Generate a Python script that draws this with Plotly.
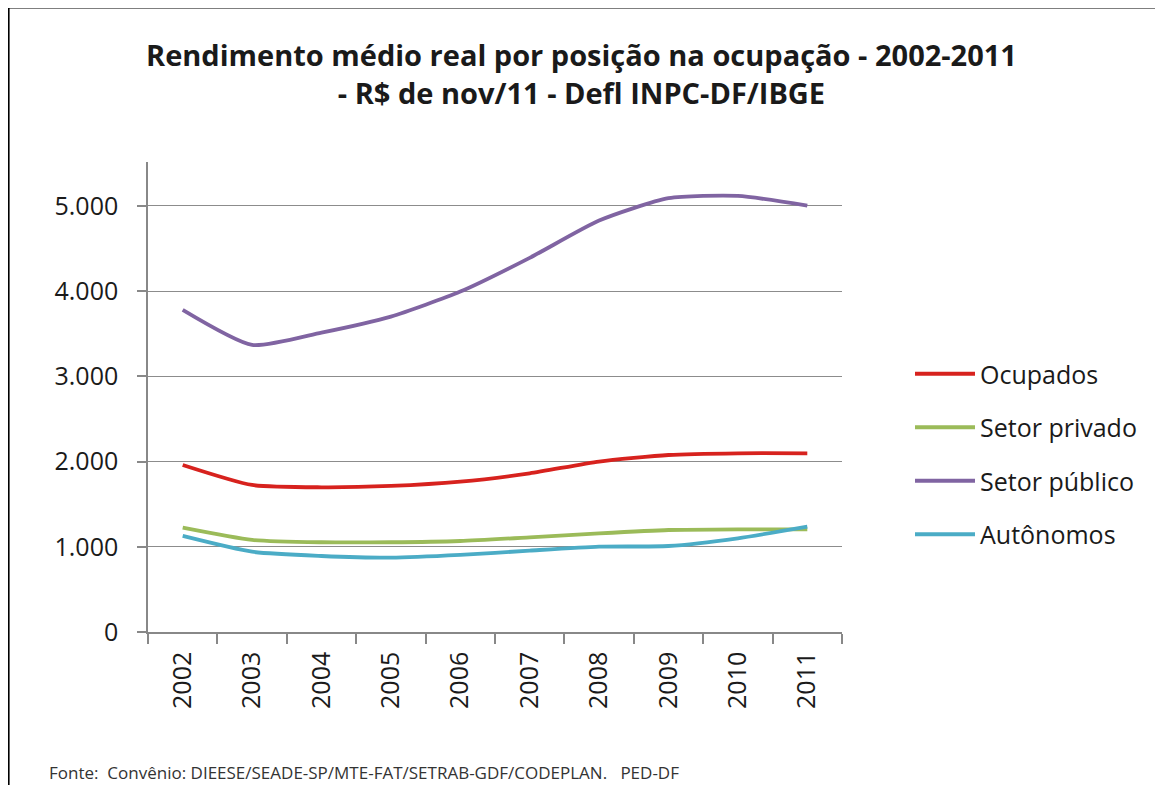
import plotly.graph_objects as go

years = ["2002", "2003", "2004", "2005", "2006", "2007", "2008", "2009", "2010", "2011"]
ocupados = [1960, 1725, 1698, 1714, 1764, 1862, 2000, 2077, 2097, 2097]
setor_privado = [1224, 1080, 1053, 1053, 1068, 1111, 1158, 1197, 1205, 1205]
setor_publico = [3779, 3368, 3513, 3701, 3994, 4390, 4828, 5090, 5117, 5003]
autonomos = [1127, 942, 892, 872, 904, 955, 1001, 1009, 1100, 1236]

series = [
    ("Ocupados", ocupados, "#D7221E"),
    ("Setor privado", setor_privado, "#9BBB59"),
    ("Setor público", setor_publico, "#8064A2"),
    ("Autônomos", autonomos, "#4BACC6"),
]

OFF = 8  # page body margin
W, H = 1163 - OFF, 785 - OFF
L, R, T, B = 148 - OFF, 842 - OFF, 162 - OFF, 632 - OFF
pw, ph = R - L, B - T


def px(x):
    return (x - OFF - L) / pw


def py(y):
    return (B - (y - OFF)) / ph


fig = go.Figure()
for i, (name, vals, col) in enumerate(series):
    fig.add_trace(go.Scatter(
        x=years, y=vals, name=name, mode="lines",
        line=dict(color=col, width=3.8, shape="spline", smoothing=0.6),
        legendgroup=f"g{i}",
    ))

FONT = "Open Sans"
TXT = "#1a1a1a"
fig.update_layout(
    width=W, height=H,
    margin=dict(l=L, r=W - R, t=T, b=H - B),
    paper_bgcolor="white", plot_bgcolor="white",
    separators=",.",
    font=dict(family=FONT, color=TXT),
    showlegend=True,
    legend=dict(
        x=px(910), y=py(351), xanchor="left", yanchor="top",
        font=dict(size=25, family=FONT, color=TXT),
        tracegroupgap=18, traceorder="grouped",
        itemwidth=60,
        bgcolor="rgba(0,0,0,0)",
    ),
    xaxis=dict(
        type="category", tickangle=-90, tickson="boundaries",
        range=[-0.5, len(years) - 0.5],
        ticks="outside", ticklen=10, tickcolor="#888888", tickwidth=1.5,
        showline=True, linecolor="#888888", linewidth=1.5,
        showgrid=False, ticklabelstandoff=8,
        tickfont=dict(size=25, family=FONT, color=TXT),
    ),
    yaxis=dict(
        range=[0, 5515], dtick=1000, tickformat=",d",
        ticks="outside", ticklen=9, tickcolor="#888888", tickwidth=1.5,
        showline=True, linecolor="#888888", linewidth=1.5,
        showgrid=True, gridcolor="#8c8c8c", gridwidth=1.3,
        zeroline=False, ticklabelstandoff=14,
        tickfont=dict(size=25, family=FONT, color=TXT),
    ),
    annotations=[
        dict(
            text="Rendimento médio real por posição na ocupação - 2002-2011<br>- R$ de nov/11 - Defl INPC-DF/IBGE",
            x=px(581), y=py(74), xref="paper", yref="paper",
            xanchor="center", yanchor="middle", showarrow=False,
            font=dict(size=29, family=FONT, color=TXT, weight="bold"),
        ),
        dict(
            text="Fonte:  Convênio: DIEESE/SEADE-SP/MTE-FAT/SETRAB-GDF/CODEPLAN.   PED-DF",
            x=px(47), y=py(772), xref="paper", yref="paper",
            xanchor="left", yanchor="middle", showarrow=False,
            font=dict(size=17, family=FONT, color="#333333"),
        ),
    ],
    shapes=[
        dict(type="rect", xref="paper", yref="paper",
             x0=px(8.8), x1=px(1200), y0=py(820), y1=py(7.8),
             line=dict(color="black", width=1.6), fillcolor="rgba(0,0,0,0)",
             layer="below"),
    ],
)

fig.write_html("out.html")
